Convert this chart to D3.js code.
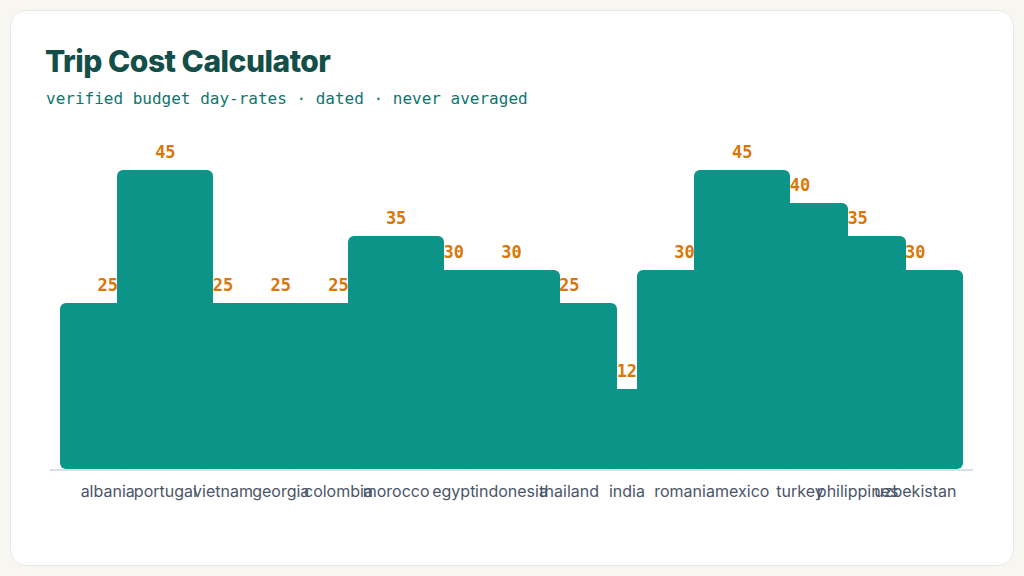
<!DOCTYPE html>
<html>
<head>
<meta charset="utf-8">
<script src="https://cdn.jsdelivr.net/npm/d3@7"></script>
<style>
  html, body { margin: 0; padding: 0; background: #f8f6f1; }
  svg { display: block; }
</style>
</head>
<body>
<svg id="chart" width="1024" height="576"></svg>
<script>
// budget day-rates per country (USD)
const countries = ["albania", "portugal", "vietnam", "georgia", "colombia", "morocco", "egypt",
  "indonesia", "thailand", "india", "romania", "mexico", "turkey", "philippines", "uzbekistan"];
const dayRates = [25, 45, 25, 25, 25, 35, 30, 30, 25, 12, 30, 45, 40, 35, 30];

const rows = countries.map((c, i) => ({ country: c, rate: dayRates[i] }));

const svg = d3.select("#chart");

// card
svg.append("rect")
  .attr("x", 10.5).attr("y", 10.5)
  .attr("width", 1003).attr("height", 555)
  .attr("rx", 16)
  .attr("fill", "#ffffff")
  .attr("stroke", "#e8e8ea");

svg.append("text")
  .attr("x", 45).attr("y", 72)
  .attr("font-family", "Inter, sans-serif")
  .attr("font-weight", 800)
  .attr("font-size", 30)
  .attr("letter-spacing", -0.5)
  .attr("fill", "#134e48")
  .text("Trip Cost Calculator");

svg.append("text")
  .attr("x", 46).attr("y", 104)
  .attr("font-family", "'DejaVu Sans Mono', monospace")
  .attr("font-size", 16)
  .attr("fill", "#0f766e")
  .text("verified budget day-rates · dated · never averaged");

const x = d3.scaleBand()
  .domain(countries)
  .range([50, 973])
  .paddingInner(0)
  .paddingOuter(0.5);

const y = d3.scaleLinear()
  .domain([0, 45])
  .rangeRound([469, 170]);

const barW = Math.round(x.step() * 1.66);
const cx = d => x(d.country) + x.bandwidth() / 2;

const g = svg.append("g");

// axis baseline
g.append("line")
  .attr("x1", 50).attr("x2", 973)
  .attr("y1", 470).attr("y2", 470)
  .attr("stroke", "#cbd5e1")
  .attr("stroke-width", 1.5);

// bars wider than the band, taller ones drawn on top
const sorted = rows.slice().sort((a, b) => a.rate - b.rate);
g.selectAll("rect.bar")
  .data(sorted)
  .enter()
  .append("rect")
  .attr("class", "bar")
  .attr("x", d => Math.round(cx(d) - barW / 2))
  .attr("y", d => y(d.rate))
  .attr("width", barW)
  .attr("height", d => y(0) - y(d.rate))
  .attr("rx", 6)
  .attr("fill", "#0d9488");

g.selectAll("text.val")
  .data(rows)
  .enter()
  .append("text")
  .attr("class", "val")
  .attr("x", cx)
  .attr("y", d => y(d.rate) - 12)
  .attr("text-anchor", "middle")
  .attr("font-family", "'DejaVu Sans Mono', monospace")
  .attr("font-weight", "bold")
  .attr("font-size", 17)
  .attr("fill", "#d97706")
  .text(d => d.rate);

g.selectAll("text.cat")
  .data(rows)
  .enter()
  .append("text")
  .attr("class", "cat")
  .attr("x", cx)
  .attr("y", 497)
  .attr("text-anchor", "middle")
  .attr("font-family", "Inter, sans-serif")
  .attr("font-size", 16)
  .attr("fill", "#4a5568")
  .text(d => d.country);
</script>
</body>
</html>
